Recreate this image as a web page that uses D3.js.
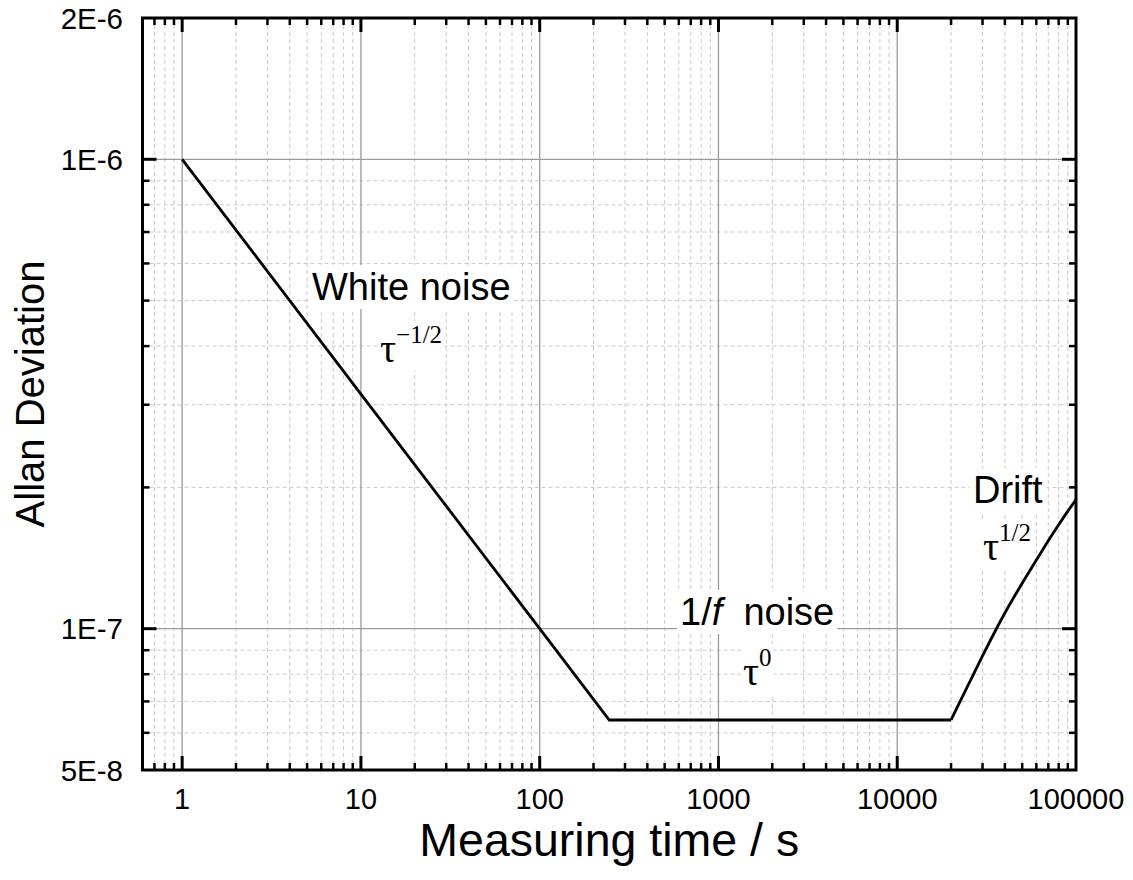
<!DOCTYPE html>
<html>
<head>
<meta charset="utf-8">
<script src="https://cdn.jsdelivr.net/npm/d3@7/dist/d3.min.js"></script>
<style>
  html, body { margin: 0; padding: 0; background: #fff; }
  svg { display: block; }
</style>
</head>
<body>
<svg id="chart" width="1133" height="880"></svg>
<script>
// ---------------- data ----------------
const noiseTau = [1, 10, 100, 245, 20000];
const noiseDev = [1e-6, 3.16e-7, 1e-7, 6.39e-8, 6.39e-8];

const driftTau = [20000, 25000, 30000, 40000, 50000, 60000, 70000, 80000, 90000, 100000];
const driftDev = [6.39e-8, 7.6e-8, 8.75e-8, 1.08e-7, 1.25e-7, 1.40e-7, 1.54e-7, 1.665e-7, 1.78e-7, 1.885e-7];

const xTickValues = [1, 10, 100, 1000, 10000, 100000];
const xTickLabels = ["1", "10", "100", "1000", "10000", "100000"];
const yTickValues = [5e-8, 1e-7, 1e-6, 2e-6];
const yTickLabels = ["5E-8", "1E-7", "1E-6", "2E-6"];

const xTitle = "Measuring time / s";
const yTitle = "Allan Deviation";

(function () {
// ---------------- layout ----------------
const pL = 142.5, pR = 1076, pT = 18, pB = 770;
const sans = "'Liberation Sans', Arial, Helvetica, sans-serif";
const serif = "'Liberation Serif', 'Times New Roman', Times, serif";

const svg = d3.select("#chart");

const x = d3.scaleLog().domain([0.6, 100000]).range([pL, pR]);
const y = d3.scaleLog().domain([5e-8, 2e-6]).range([pB, pT]);

// minor tick values
const xMinor = [];
for (let e = -1; e <= 4; e++) for (let m = 2; m <= 9; m++) {
  const v = m * Math.pow(10, e);
  if (v > 0.6 && v < 100000) xMinor.push(v);
}
const yMinor = [];
for (let e = -8; e <= -6; e++) for (let m = 2; m <= 9; m++) {
  const v = m * Math.pow(10, e);
  if (v > 5.0001e-8 && v < 1.9999e-6) yMinor.push(v);
}
const xMajorGrid = xTickValues.filter(v => v > 0.6 && v < 100000);
const yMajorGrid = [1e-7, 1e-6];

const grid = svg.append("g");
grid.selectAll(null).data(xMinor).join("line")
  .attr("x1", d => x(d)).attr("x2", d => x(d)).attr("y1", pT).attr("y2", pB)
  .attr("stroke", "#cbcbcb").attr("stroke-width", 1).attr("stroke-dasharray", "4,3");
grid.selectAll(null).data(yMinor).join("line")
  .attr("y1", d => y(d)).attr("y2", d => y(d)).attr("x1", pL).attr("x2", pR)
  .attr("stroke", "#cbcbcb").attr("stroke-width", 1).attr("stroke-dasharray", "4,3");
grid.selectAll(null).data(xMajorGrid).join("line")
  .attr("x1", d => x(d)).attr("x2", d => x(d)).attr("y1", pT).attr("y2", pB)
  .attr("stroke", "#9a9a9a").attr("stroke-width", 1.3);
grid.selectAll(null).data(yMajorGrid).join("line")
  .attr("y1", d => y(d)).attr("y2", d => y(d)).attr("x1", pL).attr("x2", pR)
  .attr("stroke", "#9a9a9a").attr("stroke-width", 1.3);

// ---------------- annotations (white boxes over the grid) ----------------
const ann = svg.append("g");
function boxed(g, pad) {
  const bb = g.node().getBBox();
  g.insert("rect", ":first-child")
    .attr("x", bb.x - pad).attr("y", bb.y - pad + 2)
    .attr("width", bb.width + 2 * pad).attr("height", bb.height + 2 * pad - 4)
    .attr("fill", "#fff");
}
function plainLabel(px, py, parts) {
  const g = ann.append("g");
  const t = g.append("text").attr("x", px).attr("y", py)
    .attr("font-family", sans).attr("font-size", 38).attr("fill", "#000");
  parts.forEach(p => t.append("tspan").attr("font-style", p.italic ? "italic" : "normal").text(p.s));
  boxed(g, 3);
}
function tauLabel(px, py, sup) {
  const g = ann.append("g");
  const t = g.append("text").attr("x", px).attr("y", py)
    .attr("font-family", serif).attr("fill", "#000");
  t.append("tspan").attr("font-size", 40).text("τ");
  t.append("tspan").attr("font-size", 25).attr("dy", -19).text(sup);
  boxed(g, 2);
}

plainLabel(312, 300, [{ s: "White noise" }]);
tauLabel(380, 362, "\u22121/2");
plainLabel(680, 625, [{ s: "1/" }, { s: "f", italic: true }, { s: "\u00a0 noise" }]);
tauLabel(743, 685, "0");
plainLabel(973, 503, [{ s: "Drift" }]);
tauLabel(983, 560, "1/2");

// ---------------- curves ----------------
svg.append("defs").append("clipPath").attr("id", "plotclip")
  .append("rect").attr("x", pL).attr("y", pT).attr("width", pR - pL).attr("height", pB - pT);

const curves = svg.append("g").attr("clip-path", "url(#plotclip)");
const lineLin = d3.line().x(d => x(d[0])).y(d => y(d[1])).curve(d3.curveLinear);
const lineSmooth = d3.line().x(d => x(d[0])).y(d => y(d[1])).curve(d3.curveMonotoneX);

curves.append("path")
  .attr("d", lineLin(noiseTau.map((t, i) => [t, noiseDev[i]])))
  .attr("fill", "none").attr("stroke", "#000").attr("stroke-width", 2.8)
  .attr("stroke-linejoin", "miter");
curves.append("path")
  .attr("d", lineSmooth(driftTau.map((t, i) => [t, driftDev[i]])))
  .attr("fill", "none").attr("stroke", "#000").attr("stroke-width", 2.8);

// ---------------- frame & ticks ----------------
const axes = svg.append("g");
const majorLen = 14, minorLen = 7;
const xMajTicks = xTickValues.filter(v => v > 0.6 && v < 100000);
const yMajTicks = yTickValues.filter(v => v > 5.0001e-8 && v < 1.9999e-6);

[[pB, -1], [pT, 1]].forEach(([yy, dir]) => {
  axes.append("g").selectAll(null).data(xMajTicks).join("line")
    .attr("x1", d => x(d)).attr("x2", d => x(d))
    .attr("y1", yy).attr("y2", yy + dir * majorLen)
    .attr("stroke", "#000").attr("stroke-width", 3);
  axes.append("g").selectAll(null).data(xMinor).join("line")
    .attr("x1", d => x(d)).attr("x2", d => x(d))
    .attr("y1", yy).attr("y2", yy + dir * minorLen)
    .attr("stroke", "#000").attr("stroke-width", 2.5);
});
[[pL, 1], [pR, -1]].forEach(([xx, dir]) => {
  axes.append("g").selectAll(null).data(yMajTicks).join("line")
    .attr("y1", d => y(d)).attr("y2", d => y(d))
    .attr("x1", xx).attr("x2", xx + dir * majorLen)
    .attr("stroke", "#000").attr("stroke-width", 3);
  axes.append("g").selectAll(null).data(yMinor).join("line")
    .attr("y1", d => y(d)).attr("y2", d => y(d))
    .attr("x1", xx).attr("x2", xx + dir * minorLen)
    .attr("stroke", "#000").attr("stroke-width", 2.5);
});

axes.append("rect").attr("x", pL).attr("y", pT)
  .attr("width", pR - pL).attr("height", pB - pT)
  .attr("fill", "none").attr("stroke", "#000").attr("stroke-width", 3);

// tick labels
axes.append("g").selectAll(null).data(xTickValues).join("text")
  .attr("x", d => x(d)).attr("y", 809)
  .attr("text-anchor", "middle")
  .attr("font-family", sans).attr("font-size", 29).attr("fill", "#000")
  .text((d, i) => xTickLabels[i]);
axes.append("g").selectAll(null).data(yTickValues).join("text")
  .attr("x", 123).attr("y", d => y(d) + 10.5)
  .attr("text-anchor", "end")
  .attr("font-family", sans).attr("font-size", 29.5).attr("fill", "#000")
  .text((d, i) => yTickLabels[i]);

// axis titles
svg.append("text")
  .attr("x", (pL + pR) / 2).attr("y", 856)
  .attr("text-anchor", "middle")
  .attr("font-family", sans).attr("font-size", 46.5).attr("fill", "#000")
  .text(xTitle);
svg.append("text")
  .attr("transform", `translate(44, ${(pT + pB) / 2}) rotate(-90)`)
  .attr("text-anchor", "middle")
  .attr("font-family", sans).attr("font-size", 40).attr("fill", "#000")
  .text(yTitle);
})();
</script>
</body>
</html>
